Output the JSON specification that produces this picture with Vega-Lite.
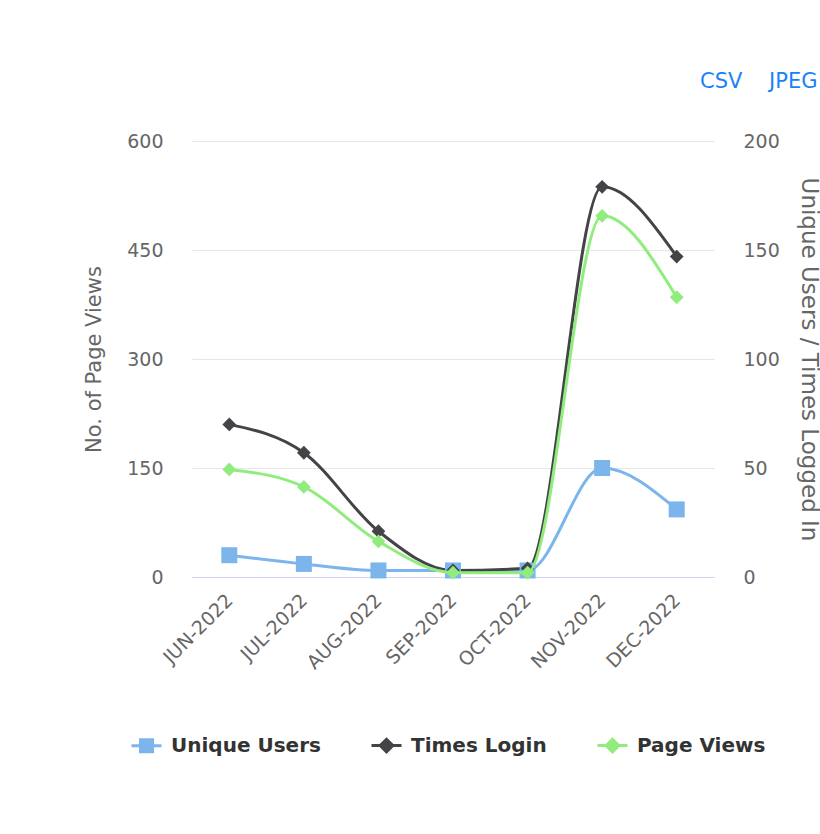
{
  "$schema": "https://vega.github.io/schema/vega-lite/v6.json",
  "width": 522,
  "height": 436,
  "autosize": "none",
  "padding": {"left": 192, "top": 141, "right": 106, "bottom": 257},
  "background": "white",
  "config": {
    "font": "DejaVu Sans",
    "view": {"stroke": null},
    "axis": {"labelFont": "DejaVu Sans", "titleFont": "DejaVu Sans"}
  },
  "title": {
    "text": "CSV\u00a0\u00a0\u00a0\u00a0JPEG",
    "anchor": "end",
    "frame": "group",
    "align": "left",
    "dx": -14,
    "offset": 40,
    "color": "#1a82f7",
    "fontSize": 21,
    "fontWeight": "normal",
    "font": "DejaVu Sans"
  },
  "data": {
    "values": [
      {"month": "JUN-2022", "series": "Unique Users", "value": 10},
      {"month": "JUL-2022", "series": "Unique Users", "value": 6},
      {"month": "AUG-2022", "series": "Unique Users", "value": 3},
      {"month": "SEP-2022", "series": "Unique Users", "value": 3},
      {"month": "OCT-2022", "series": "Unique Users", "value": 3},
      {"month": "NOV-2022", "series": "Unique Users", "value": 50},
      {"month": "DEC-2022", "series": "Unique Users", "value": 31},
      {"month": "JUN-2022", "series": "Times Login", "value": 70},
      {"month": "JUL-2022", "series": "Times Login", "value": 57},
      {"month": "AUG-2022", "series": "Times Login", "value": 21},
      {"month": "SEP-2022", "series": "Times Login", "value": 3},
      {"month": "OCT-2022", "series": "Times Login", "value": 4},
      {"month": "NOV-2022", "series": "Times Login", "value": 179},
      {"month": "DEC-2022", "series": "Times Login", "value": 147},
      {"month": "JUN-2022", "series": "Page Views", "value": 148},
      {"month": "JUL-2022", "series": "Page Views", "value": 124},
      {"month": "AUG-2022", "series": "Page Views", "value": 49},
      {"month": "SEP-2022", "series": "Page Views", "value": 6},
      {"month": "OCT-2022", "series": "Page Views", "value": 6},
      {"month": "NOV-2022", "series": "Page Views", "value": 497},
      {"month": "DEC-2022", "series": "Page Views", "value": 385}
    ]
  },
  "encoding": {
    "x": {
      "field": "month",
      "type": "ordinal",
      "sort": null,
      "title": null,
      "axis": {
        "labelAngle": -45,
        "labelAlign": "right",
        "labelBaseline": "middle",
        "labelColor": "#666666",
        "labelFontSize": 19,
        "labelPadding": 20,
        "ticks": false,
        "tickSize": 0,
        "domainColor": "#ccd6eb",
        "domainWidth": 1,
        "grid": false
      }
    },
    "color": {
      "field": "series",
      "type": "nominal",
      "scale": {
        "domain": ["Unique Users", "Times Login", "Page Views"],
        "range": ["#7cb5ec", "#434348", "#90ed7d"]
      },
      "legend": {
        "title": null,
        "orient": "none",
        "direction": "horizontal",
        "legendX": -62,
        "legendY": 588,
        "labelFontSize": 20,
        "labelFontWeight": "bold",
        "labelColor": "#333333",
        "labelFont": "DejaVu Sans",
        "labelOffset": 8,
        "columnPadding": 44,
        "symbolSize": 900,
        "symbolStrokeWidth": 3,
        "encode": {
          "symbols": {
            "update": {
              "shape": {"signal": "datum.value === 'Unique Users' ? 'M-1,0H1M-0.4,-0.4H0.4V0.4H-0.4Z' : 'M-1,0H1M-0.42,0L0,-0.42L0.42,0L0,0.42Z'"},
              "fill": {"scale": "color", "field": "value"},
              "stroke": {"scale": "color", "field": "value"},
              "fillOpacity": {"value": 1},
              "strokeWidth": {"value": 3}
            }
          }
        }
      }
    }
  },
  "layer": [
    {
      "transform": [{"filter": "datum.series !== 'Page Views'"}],
      "encoding": {
        "y": {
          "field": "value",
          "type": "quantitative",
          "scale": {"domain": [0, 200], "nice": false},
          "title": "Unique Users / Times Logged In",
          "axis": {
            "orient": "right",
            "values": [0, 50, 100, 150, 200],
            "grid": false,
            "domain": false,
            "ticks": false,
            "tickSize": 0,
            "labelPadding": 29,
            "labelColor": "#666666",
            "labelFontSize": 19,
            "titleColor": "#666666",
            "titleFontSize": 23,
            "titleFontWeight": "normal",
            "titlePadding": 17
          }
        }
      },
      "layer": [
        {"mark": {"type": "line", "interpolate": "monotone", "strokeWidth": 3}},
        {"mark": {"type": "point", "filled": true, "opacity": 1},
         "encoding": {
           "shape": {"condition": {"test": "datum.series === 'Unique Users'", "value": "square"}, "value": "diamond"},
           "size": {"condition": {"test": "datum.series === 'Unique Users'", "value": 256}, "value": 190}
         }}
      ]
    },
    {
      "transform": [{"filter": "datum.series === 'Page Views'"}],
      "encoding": {
        "y": {
          "field": "value",
          "type": "quantitative",
          "scale": {"domain": [0, 600], "nice": false},
          "title": "No. of Page Views",
          "axis": {
            "orient": "left",
            "values": [0, 150, 300, 450, 600],
            "grid": true,
            "gridColor": "#e6e6e6",
            "gridWidth": 1,
            "domain": false,
            "ticks": false,
            "tickSize": 0,
            "labelPadding": 29,
            "labelColor": "#666666",
            "labelFontSize": 19,
            "titleColor": "#666666",
            "titleFontSize": 21,
            "titleFontWeight": "normal",
            "titlePadding": 22
          }
        }
      },
      "layer": [
        {"mark": {"type": "line", "interpolate": "monotone", "strokeWidth": 3}},
        {"mark": {"type": "point", "filled": true, "opacity": 1, "size": 190, "shape": "diamond"}}
      ]
    }
  ],
  "resolve": {"scale": {"y": "independent"}}
}
